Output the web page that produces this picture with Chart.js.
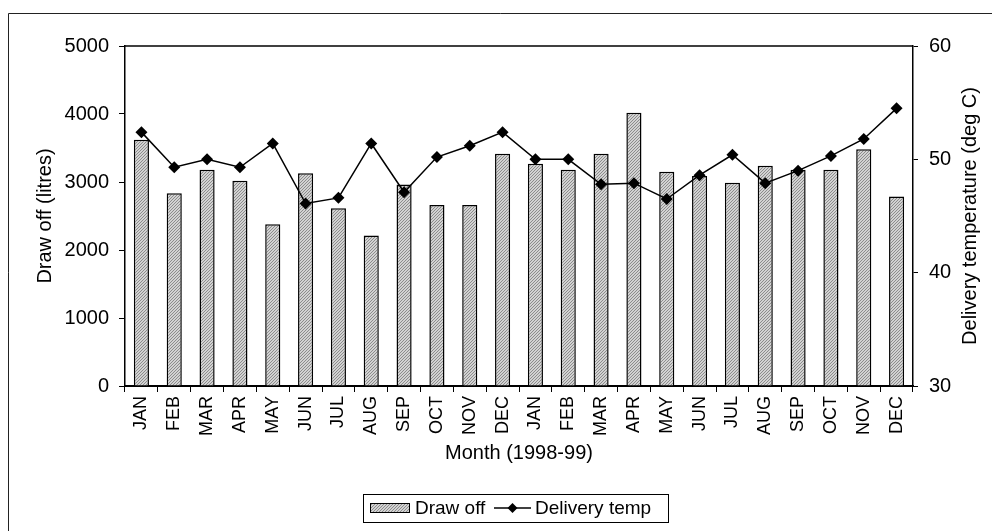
<!DOCTYPE html>
<html lang="en">
<head>
    <meta charset="UTF-8">
    <script src="https://cdn.jsdelivr.net/npm/chart.js"></script>
    <title>Draw off and delivery temperature</title>
    <style>
        body { margin: 0; background: #fff; }
    </style>
</head>
<body>
    <canvas id="myChart" width="992" height="531"></canvas>
    <script>
        const months = ['JAN','FEB','MAR','APR','MAY','JUN','JUL','AUG','SEP','OCT','NOV','DEC',
                        'JAN','FEB','MAR','APR','MAY','JUN','JUL','AUG','SEP','OCT','NOV','DEC'];
        const drawOff = [3620, 2835, 3180, 3020, 2380, 3130, 2615, 2215, 2965, 2660, 2660, 3415,
                         3270, 3180, 3415, 4020, 3150, 3090, 2990, 3240, 3180, 3180, 3480, 2785];
        const deliveryTemp = [52.4, 49.3, 50.0, 49.3, 51.4, 46.1, 46.6, 51.4, 47.1, 50.2, 51.2, 52.4,
                              50.0, 50.0, 47.8, 47.9, 46.5, 48.6, 50.4, 47.9, 49.0, 50.3, 51.8, 54.5];
        const leftTicks = [0, 1000, 2000, 3000, 4000, 5000];
        const rightTicks = [30, 40, 50, 60];

        const font = 'Liberation Sans, Arial, sans-serif';
        const ctx = document.getElementById('myChart');

        // grey diagonal hatch for the bars
        function hatch() {
            const c = document.createElement('canvas');
            c.width = 3; c.height = 3;
            const g = c.getContext('2d');
            g.fillStyle = '#d2d2d2';
            g.fillRect(0, 0, 3, 3);
            g.fillStyle = '#8c8c8c';
            for (let i = 0; i < 3; i++) g.fillRect(i, 2 - i, 1, 1);
            return ctx.getContext('2d').createPattern(c, 'repeat');
        }
        const barFill = hatch();

        const extras = {
            id: 'extras',
            afterDraw(chart) {
                const c = chart.ctx;
                const a = chart.chartArea;
                c.save();
                // outer frame (only top and left show in the picture)
                c.strokeStyle = '#222';
                c.lineWidth = 1;
                c.beginPath();
                c.moveTo(8.5, 531); c.lineTo(8.5, 13.5); c.lineTo(992, 13.5);
                c.stroke();
                // top edge of plot area
                c.strokeStyle = '#000';
                c.lineWidth = 1.5;
                c.beginPath();
                c.moveTo(a.left, a.top); c.lineTo(a.right, a.top);
                c.stroke();
                // right axis title, reading bottom to top
                c.fillStyle = '#000';
                c.font = '20px ' + font;
                c.textAlign = 'center';
                c.textBaseline = 'middle';
                c.translate(970, (a.top + a.bottom) / 2);
                c.rotate(-Math.PI / 2);
                c.fillText('Delivery temperature (deg C)', 0, 0);
                c.restore();

                // legend
                c.save();
                c.strokeStyle = '#000';
                c.lineWidth = 1;
                c.strokeRect(363.5, 494.5, 305, 28);
                c.fillStyle = barFill;
                c.fillRect(370, 503, 40, 10);
                c.strokeRect(370.5, 503.5, 39, 9);
                c.fillStyle = '#000';
                c.font = '19px ' + font;
                c.textBaseline = 'middle';
                c.textAlign = 'left';
                c.fillText('Draw off', 415, 509);
                c.lineWidth = 1.5;
                c.beginPath();
                c.moveTo(494, 508); c.lineTo(531, 508);
                c.stroke();
                c.beginPath();
                c.moveTo(512.5, 503); c.lineTo(517.5, 508); c.lineTo(512.5, 513); c.lineTo(507.5, 508);
                c.closePath();
                c.fill();
                c.fillText('Delivery temp', 535, 509);
                c.restore();
            }
        };

        new Chart(ctx, {
            data: {
                labels: months,
                datasets: [{
                    type: 'line',
                    label: 'Delivery temp',
                    data: deliveryTemp,
                    yAxisID: 'y1',
                    borderColor: '#000',
                    backgroundColor: '#000',
                    borderWidth: 1.5,
                    pointStyle: 'rectRot',
                    pointRadius: 6,
                    pointBorderWidth: 0,
                    tension: 0,
                    order: 0
                }, {
                    type: 'bar',
                    label: 'Draw off',
                    data: drawOff,
                    yAxisID: 'y',
                    backgroundColor: barFill,
                    borderColor: '#000',
                    borderWidth: 1.5,
                    categoryPercentage: 1,
                    barPercentage: 0.46,
                    order: 1
                }]
            },
            options: {
                responsive: false,
                animation: false,
                layout: { padding: { top: 46, left: 0, right: 0, bottom: 65 } },
                plugins: {
                    legend: { display: false },
                    tooltip: { enabled: false }
                },
                scales: {
                    x: {
                        offset: true,
                        grid: { offset: true, drawOnChartArea: false, drawTicks: true, tickLength: 6, color: '#000', lineWidth: 1 },
                        border: { display: true, color: '#000', width: 2 },
                        ticks: { color: '#000', font: { family: font, size: 18 }, minRotation: 90, maxRotation: 90, autoSkip: false, padding: 4 },
                        title: { display: true, text: 'Month (1998-99)', color: '#000', font: { family: font, size: 20 }, padding: { top: 0, bottom: 1 } },
                        afterFit: s => { s.height = 80; }
                    },
                    y: {
                        position: 'left',
                        min: 0,
                        max: 5000,
                        afterBuildTicks: s => { s.ticks = leftTicks.map(v => ({ value: v })); },
                        grid: { drawOnChartArea: false, drawTicks: true, tickLength: 6, color: '#000' },
                        border: { display: true, color: '#000', width: 1.5 },
                        ticks: { color: '#000', font: { family: font, size: 20 }, padding: 10, callback: v => String(v) },
                        title: { display: true, text: 'Draw off (litres)', color: '#000', font: { family: font, size: 20 }, padding: { top: 33, bottom: 0 } },
                        afterFit: s => { s.width = 125; }
                    },
                    y1: {
                        position: 'right',
                        min: 30,
                        max: 60,
                        afterBuildTicks: s => { s.ticks = rightTicks.map(v => ({ value: v })); },
                        grid: { drawOnChartArea: false, drawTicks: true, tickLength: 5, color: '#000' },
                        border: { display: true, color: '#000', width: 1.5 },
                        ticks: { color: '#000', font: { family: font, size: 20 }, padding: 11, callback: v => String(v) },
                        afterFit: s => { s.width = 79; }
                    }
                }
            },
            plugins: [extras]
        });
    </script>
</body>
</html>
